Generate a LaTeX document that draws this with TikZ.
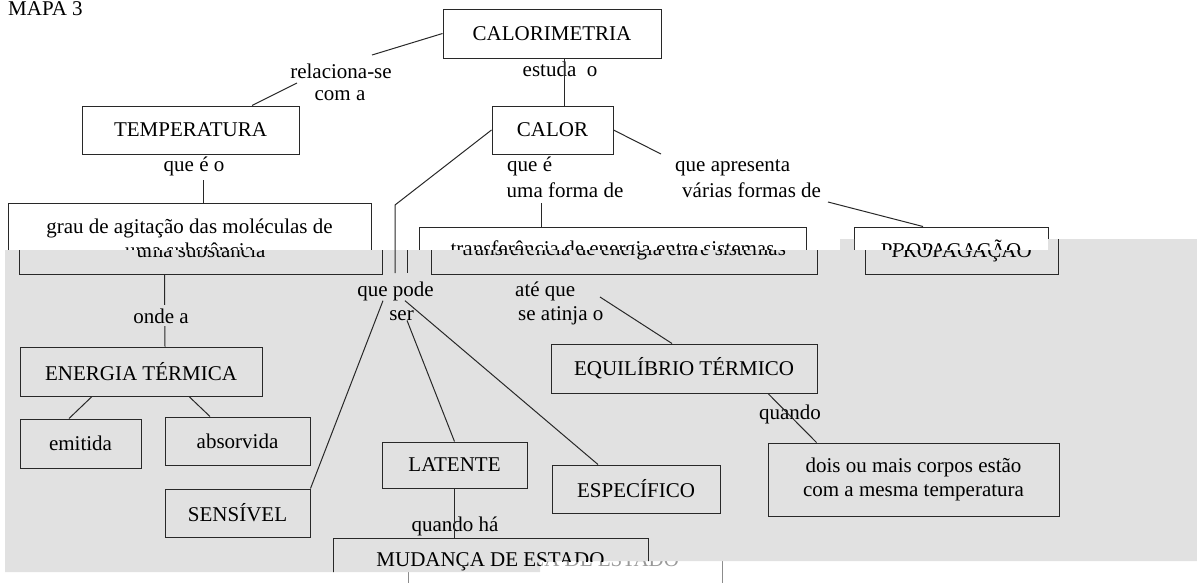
\documentclass[tikz,border=0pt]{standalone}
\usepackage{fontspec}
\setmainfont{Liberation Serif}
\usepackage{tikz}

\definecolor{fundo}{RGB}{225,225,225}
\definecolor{traco}{RGB}{40,40,40}

% zona cinzenta (segunda captura sobreposta)
\def\zona{(5,250) -- (840,250) -- (840,239) -- (854,239) -- (854,250) -- (1048,250) -- (1048,239) -- (1197,239) -- (1197,561) -- (540,561) -- (540,572) -- (5,572) -- cycle}

\begin{document}
\begin{tikzpicture}[x=1pt,y=-1pt,
    font=\fontsize{21}{24}\selectfont,
    tam/.style 2 args={minimum width=#1pt, minimum height=#2pt},
    caixa/.style={draw=traco, line width=1pt, inner sep=0pt, align=center},
    rotulo/.style={inner sep=0pt, align=center},
    liga/.style={draw=traco, line width=1pt}]
    \useasboundingbox (0,0) rectangle (1197,582);

    % camada de cima
    \node[rotulo, anchor=base west] (mapa) at (8,15) {MAPA 3};
    \node[caixa, tam={218}{49}] (calorimetria) at (552,33.5) {CALORIMETRIA};
    \node[caixa, tam={217}{48}] (temperatura) at (190.5,130) {TEMPERATURA};
    \node[caixa, tam={121}{48}] (calor) at (552.5,130) {CALOR};
    \node[caixa, tam={363}{71}] (grauW) at (189.5,238.5) {grau de agitação das moléculas de\\uma substância};
    \node[caixa, tam={387}{47}] (transfW) at (612.5,250.5) {transferência de energia entre sistemas};
    \node[caixa, tam={194}{47}] (propW) at (951,250.5) {PROPAGAÇÃO};
    \node[caixa, draw=black!45, text=black!40, tam={314}{48}] (mudancaW) at (565,562) {MUDANÇA DE ESTADO};

    \node[rotulo, anchor=base] (relaciona) at (341,78) {relaciona-se};
    \node[rotulo, anchor=base] (coma) at (340,100) {com a};
    \node[rotulo, anchor=base] (estuda) at (560,76) {estuda\ \ o};
    \node[rotulo, anchor=base] (queo) at (194,171) {que é o};
    \node[rotulo, anchor=base west] (quee) at (507,171) {que é};
    \node[rotulo, anchor=base] (formade) at (565,197) {uma forma de};
    \node[rotulo, anchor=base west] (apresenta) at (675,171) {que apresenta};
    \node[rotulo, anchor=base west] (formas) at (682,197) {várias formas de};

    \coordinate (c1) at (372,55);
    \coordinate (c2) at (297,83);
    \coordinate (q1) at (203,180);
    \coordinate (f1) at (541,203);
    \coordinate (a1) at (661,154);
    \coordinate (a2) at (828,202);
    \coordinate (dobra) at (395,205);
    \coordinate (pode0) at (395,273);

    \draw[liga] (calorimetria.west) -- (c1);
    \draw[liga] (c2) -- ([xshift=61.5pt]temperatura.north);
    \draw[liga] ([xshift=12pt]calorimetria.south) -- ([xshift=11.5pt]calor.north);
    \draw[liga] (q1) -- ([xshift=13.5pt]grauW.north);
    \draw[liga] (f1) -- ([xshift=-71.5pt]transfW.north);
    \draw[liga] (calor.east) -- (a1);
    \draw[liga] (a2) -- ([xshift=-28pt]propW.north);

    % camada cinzenta
    \fill[fundo] \zona;
    \draw[liga] (calor.west) -- (dobra) -- (pode0);
    \begin{scope}
        \clip \zona;
        \node[caixa, tam={363}{71}] (grauG) at (201,238.5) {grau de agitação das moléculas de\\uma substância};
        \node[caixa, tam={386}{47}] (transfG) at (624,250.5) {transferência de energia entre sistemas};
        \node[caixa, tam={193}{47}] (propG) at (961.5,250.5) {PROPAGAÇÃO};
        \node[caixa, tam={315}{48}] (mudanca) at (490.5,562) {MUDANÇA DE ESTADO};
        \draw[liga] ([xshift=12pt]dobra) -- ([xshift=12pt]pode0);
    \end{scope}

    \node[caixa, tam={242}{49}] (energia) at (141,371.5) {ENERGIA TÉRMICA};
    \node[caixa, tam={121}{49}] (emitida) at (80.5,443.5) {emitida};
    \node[caixa, tam={145}{48}] (absorvida) at (237.5,441) {absorvida};
    \node[caixa, tam={145}{48}] (sensivel) at (237.5,513) {SENSÍVEL};
    \node[caixa, tam={145}{46}] (latente) at (454.5,465) {LATENTE};
    \node[caixa, tam={168}{48}] (especifico) at (636,489) {ESPECÍFICO};
    \node[caixa, tam={266}{49}] (equilibrio) at (684,368.5) {EQUILÍBRIO TÉRMICO};
    \node[caixa, tam={291}{73}] (dois) at (913.5,479.5) {dois ou mais corpos estão\\com a mesma temperatura};

    \node[rotulo, anchor=base] (pode) at (395.5,296) {que pode};
    \node[rotulo, anchor=base] (ser) at (401.5,320) {ser};
    \node[rotulo, anchor=base west] (ateque) at (515,296) {até que};
    \node[rotulo, anchor=base west] (atinja) at (518,320) {se atinja o};
    \node[rotulo, anchor=base] (quando) at (790,419) {quando};
    \node[rotulo, anchor=base] (quandoha) at (455,531) {quando há};

    \coordinate (t1) at (600,297);

    \draw[liga] ([xshift=-36.5pt]grauG.south) -- ([xshift=24pt]energia.north);
    \node[rotulo, fill=fundo, inner sep=3pt, anchor=base] (ondea) at (161,323) {onde a};
    \draw[liga] ([xshift=-49pt]energia.south) -- ([xshift=-11.5pt]emitida.north);
    \draw[liga] ([xshift=48pt]energia.south) -- ([xshift=-27.5pt]absorvida.north);
    \draw[liga] ([xshift=-12.5pt]pode.south) -- (sensivel.north east);
    \draw[liga] ([xshift=9.5pt]pode.south) -- ([xshift=-38pt]especifico.north);
    \draw[liga] ([xshift=5.5pt]ser.south) -- (latente.north);
    \draw[liga] (t1) -- ([xshift=-12pt]equilibrio.north);
    \draw[liga] ([xshift=84pt]equilibrio.south) -- ([xshift=49pt]dois.north west);
    \draw[liga] (latente.south) -- ([xshift=-36pt]mudanca.north);
\end{tikzpicture}
\end{document}
